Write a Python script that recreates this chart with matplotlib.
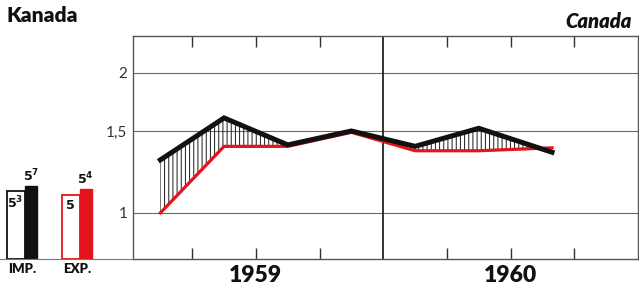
import numpy as np
import matplotlib
matplotlib.use("Agg")
import matplotlib.pyplot as plt
from matplotlib.transforms import blended_transform_factory

# ---- data ----
quarter_pos = [0.5, 1.5, 2.5, 3.5, 4.5, 5.5, 6.65]
imports = [1.30, 1.60, 1.40, 1.50, 1.39, 1.52, 1.35]
exports = [1.00, 1.39, 1.39, 1.49, 1.36, 1.36, 1.38]
year_labels = ["1959", "1960"]
year_pos = [2, 6]
y_ticks = [1, 1.5, 2]
y_tick_labels = ["1", "1,5", "2"]

bar_groups = ["IMP.", "EXP."]
bar_prev = [5.3, 5.0]
bar_curr = [5.7, 5.4]
bar_prev_lbl = [r"$\mathbf{5^{3}}$", r"$\mathbf{5}$"]
bar_curr_lbl = [r"$\mathbf{5^{7}}$", r"$\mathbf{5^{4}}$"]
bar_colors = ["#111111", "#e3141b"]

RED = "#e3141b"
GRID = "#7d6450"

plt.rcParams['font.family'] = ['Lato', 'DejaVu Sans']
plt.rcParams['hatch.linewidth'] = 0.7

W, H = 639, 292
fig = plt.figure(figsize=(W / 100, H / 100), dpi=100)

x0, x1, ytop, ybot = 133, 638, 36, 259
ax = fig.add_axes([x0 / W, (H - ybot) / H, (x1 - x0) / W, (ybot - ytop) / H])
ax.set_yscale('log')
ax.set_ylim(0.796, 2.40)
ax.set_xlim(0.07, 8.0)

for v in y_ticks:
    ax.axhline(v, color=GRID, lw=0.8, zorder=1)
ax.axvline(4, color="#111111", lw=1.2, zorder=1)

xs = np.array(quarter_pos)
imp = np.array(imports)
exp_ = np.array(exports)
ax.fill_between(xs, exp_, imp, where=imp > exp_, interpolate=True,
                facecolor='none', edgecolor='#1a1a1a', hatch='||||', lw=0, zorder=2)
ax.plot(xs, exp_, color=RED, lw=2.3, zorder=3, solid_joinstyle='miter')
ax.plot(xs, imp, color="#111111", lw=3.6, zorder=4, solid_joinstyle='miter')

ax.set_yticks(y_ticks)
ax.set_yticklabels(y_tick_labels)
ax.yaxis.set_minor_locator(matplotlib.ticker.NullLocator())
ax.yaxis.set_minor_formatter(matplotlib.ticker.NullFormatter())
ax.tick_params(axis='y', length=0, pad=4, labelsize=11, labelcolor='#333333')
ax.set_xticks([1, 2, 3, 5, 6, 7])
ax.tick_params(axis='x', direction='in', top=True, bottom=True, length=8,
               width=1, color='#333333', labelbottom=False)
for s in ax.spines.values():
    s.set_color('#555555')
    s.set_linewidth(1.0)

trans = blended_transform_factory(ax.transData, ax.transAxes)
for p, lbl in zip(year_pos, year_labels):
    ax.text(p, -0.025, lbl, transform=trans, ha='center', va='top',
            fontsize=16.5, fontweight='heavy', color='#111111')

# ---- small bar chart ----
bax = fig.add_axes([0, (H - ybot) / H, x0 / W, (ybot - ytop) / H])
bax.set_xlim(-0.4, 2.02)
bax.set_ylim(0, 17.3)
g = np.arange(len(bar_groups))
bax.bar(g - 0.28, bar_prev, width=0.335, align='edge', facecolor='white',
        edgecolor=bar_colors, lw=1.3, zorder=2)
bax.bar(g + 0.055, bar_curr, width=0.22, align='edge', color=bar_colors,
        edgecolor=bar_colors, lw=1.0, zorder=2)
for i in range(len(bar_groups)):
    bax.text(g[i] - 0.12, bar_prev[i] - 0.25, bar_prev_lbl[i], ha='center', va='top',
             fontsize=9, color='#111111')
    bax.text(g[i] + 0.16, bar_curr[i] + 0.15, bar_curr_lbl[i], ha='center', va='bottom',
             fontsize=9, color='#111111')
    bax.text(g[i], -0.3, bar_groups[i], ha='center', va='top', fontsize=9.5,
             fontweight='heavy', color='#111111')
for k in ['top', 'left', 'right']:
    bax.spines[k].set_visible(False)
bax.spines['bottom'].set_color('#777777')
bax.set_xticks([])
bax.set_yticks([])
bax.patch.set_alpha(0)

fig.text(7 / W, 1 - 22 / H, "Kanada", fontsize=15, fontweight='heavy', color='#111111',
         ha='left', va='baseline')
fig.text(632 / W, 1 - 28 / H, "Canada", fontsize=14.5, fontweight='heavy', style='italic',
         color='#111111', ha='right', va='baseline')

fig.savefig("out.png", dpi=100, facecolor='white')
